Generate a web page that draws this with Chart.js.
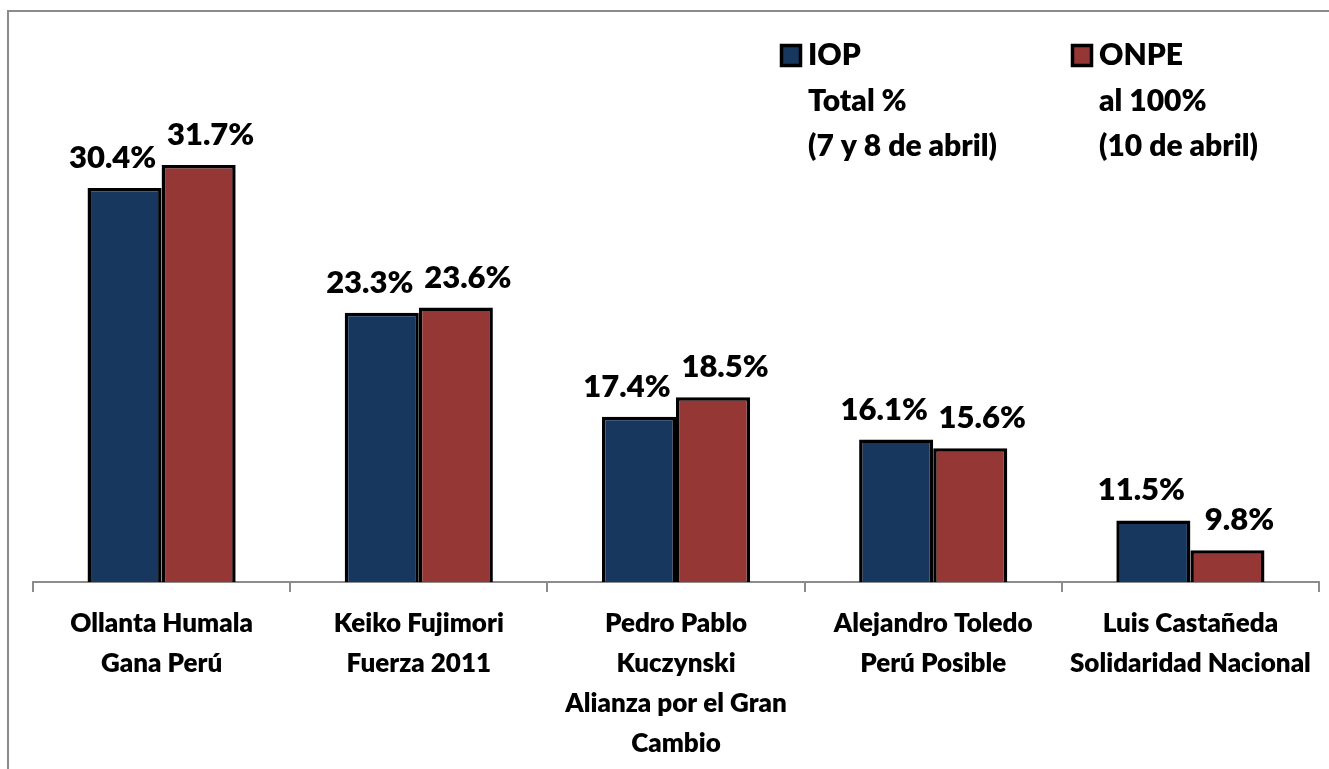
<!DOCTYPE html>
<html>
<head>
<meta charset="utf-8">
<script src="https://cdn.jsdelivr.net/npm/chart.js@4/dist/chart.umd.min.js"></script>
<style>
  html, body { margin: 0; padding: 0; background: #fff; }
  #wrap { width: 1329px; height: 769px; }
</style>
</head>
<body>
<div id="wrap"><canvas id="chart" width="1329" height="769"></canvas></div>
<script>
const candidatos = [
  ['Ollanta Humala', 'Gana Perú'],
  ['Keiko Fujimori', 'Fuerza 2011'],
  ['Pedro Pablo', 'Kuczynski', 'Alianza por el Gran', 'Cambio'],
  ['Alejandro Toledo', 'Perú Posible'],
  ['Luis Castañeda', 'Solidaridad Nacional']
];
const iop = [30.4, 23.3, 17.4, 16.1, 11.5];
const onpe = [31.7, 23.6, 18.5, 15.6, 9.8];
const leyendaIop = ['IOP', 'Total %', '(7 y 8 de abril)'];
const leyendaOnpe = ['ONPE', 'al 100%', '(10 de abril)'];

const FONT = 'Lato, Roboto, "Open Sans", sans-serif';
const PESO = '800';
const AZUL = '#17375E';
const ROJO = '#953735';
const GRIS = '#8c8c8c';

// etiquetas de valor encima de cada barra
const etiquetas = {
  id: 'etiquetas',
  afterDatasetsDraw(chart) {
    const ctx = chart.ctx;
    ctx.save();
    ctx.font = PESO + ' 31px ' + FONT;
    ctx.fillStyle = '#000';
    ctx.textAlign = 'center';
    ctx.textBaseline = 'alphabetic';
    chart.data.datasets.forEach((ds, i) => {
      chart.getDatasetMeta(i).data.forEach((bar, j) => {
        ctx.fillText(ds.data[j].toFixed(1) + '%', bar.x + ds.desplazamiento, bar.y - 20);
      });
    });
    ctx.restore();
  }
};

// marco gris y leyenda de tres líneas
const marcoLeyenda = {
  id: 'marcoLeyenda',
  afterDraw(chart) {
    const ctx = chart.ctx;
    ctx.save();
    ctx.strokeStyle = GRIS;
    ctx.lineWidth = 2;
    ctx.strokeRect(8, 11, 1400, 800);

    const items = [
      { x: 780, color: AZUL, lineas: leyendaIop },
      { x: 1071, color: ROJO, lineas: leyendaOnpe }
    ];
    ctx.font = PESO + ' 30px ' + FONT;
    ctx.textAlign = 'left';
    ctx.textBaseline = 'alphabetic';
    items.forEach(it => {
      ctx.fillStyle = it.color;
      ctx.fillRect(it.x + 1.5, 45.5, 19, 20);
      ctx.strokeStyle = '#000';
      ctx.lineWidth = 3.5;
      ctx.strokeRect(it.x + 1.5, 45.5, 19, 20);
      ctx.fillStyle = '#000';
      it.lineas.forEach((t, k) => {
        ctx.fillText(t, it.x + 28, 65 + k * 45.5);
      });
    });
    ctx.restore();
  }
};

new Chart(document.getElementById('chart'), {
  type: 'bar',
  data: {
    labels: candidatos,
    datasets: [
      {
        label: 'IOP', data: iop, backgroundColor: AZUL,
        borderColor: '#000', borderWidth: 3.5, borderSkipped: false,
        desplazamiento: -12
      },
      {
        label: 'ONPE', data: onpe, backgroundColor: ROJO,
        borderColor: '#000', borderWidth: 3.5, borderSkipped: false,
        desplazamiento: 12
      }
    ]
  },
  options: {
    responsive: false,
    animation: false,
    layout: { padding: { left: 33, right: 10, top: 107, bottom: 0 } },
    plugins: { legend: { display: false }, tooltip: { enabled: false } },
    datasets: { bar: { categoryPercentage: 0.576, barPercentage: 1 } },
    scales: {
      x: {
        grid: {
          offset: true, drawOnChartArea: false, drawTicks: true,
          tickLength: 10, color: GRIS, lineWidth: 2
        },
        border: { display: true, color: GRIS, width: 2 },
        ticks: {
          color: '#000', padding: 12, maxRotation: 0, autoSkip: false,
          font: { family: FONT, size: 26, weight: PESO, lineHeight: '40px' }
        },
        afterFit: s => { s.height = 769 - 582; }
      },
      y: { display: false, min: 8, max: 35 }
    }
  },
  plugins: [etiquetas, marcoLeyenda]
});
</script>
</body>
</html>
